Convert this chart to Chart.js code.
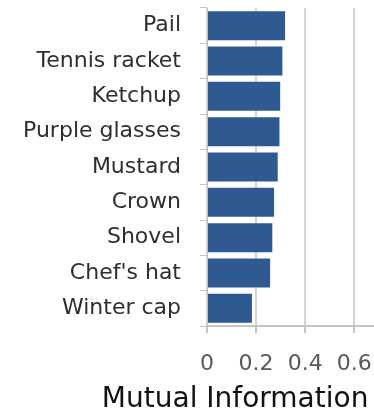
<!DOCTYPE html>
<html>
<head>
<meta charset="utf-8">
<script src="https://cdn.jsdelivr.net/npm/chart.js@4/dist/chart.umd.min.js"></script>
<style>
html,body{margin:0;padding:0;background:#fff;}
#wrap{width:374px;height:417px;}
</style>
</head>
<body>
<div id="wrap"><canvas id="c" width="374" height="417"></canvas></div>
<script>
const categories = ['Pail', 'Tennis racket', 'Ketchup', 'Purple glasses', 'Mustard', 'Crown', 'Shovel', "Chef's hat", 'Winter cap'];
const values = [0.318, 0.307, 0.298, 0.295, 0.288, 0.273, 0.266, 0.257, 0.183];
const xTicks = [0, 0.2, 0.4, 0.6];
const xTitle = 'Mutual Information';

new Chart(document.getElementById('c'), {
  type: 'bar',
  data: {
    labels: categories,
    datasets: [{
      data: values,
      backgroundColor: '#2f5a91',
      borderWidth: 0,
      barPercentage: 0.82,
      categoryPercentage: 1
    }]
  },
  options: {
    indexAxis: 'y',
    responsive: false,
    animation: false,
    layout: { padding: { top: 8, right: 0, left: 0, bottom: 0 } },
    plugins: {
      legend: { display: false },
      tooltip: { enabled: false },
      title: {
        display: true,
        position: 'bottom',
        align: 'end',
        text: xTitle + '\u2009',
        color: '#111111',
        font: { family: 'DejaVu Sans', size: 28, weight: 'normal' },
        padding: { top: 0, bottom: 0 }
      }
    },
    scales: {
      x: {
        min: 0,
        max: 0.68,
        afterBuildTicks: s => { s.ticks = xTicks.map(v => ({ value: v })); },
        afterFit: s => { s.height = 57.4; s.paddingLeft = 0; s.paddingRight = 0; },
        grid: { color: '#d4d4d4', lineWidth: 2, tickLength: 7, tickColor: '#c4c4c4', drawTicks: true },
        border: { display: true, color: '#c4c4c4', width: 2 },
        ticks: {
          padding: 18,
          color: '#595959',
          font: { family: 'DejaVu Sans', size: 22 },
          callback: v => String(v)
        }
      },
      y: {
        afterFit: s => { s.width = 207; s.paddingTop = 0; s.paddingBottom = 0; },
        grid: { drawOnChartArea: false, drawTicks: true, tickLength: 7, tickColor: '#c4c4c4', offset: true },
        border: { display: true, color: '#c4c4c4', width: 1 },
        ticks: {
          padding: 19,
          color: '#2e2e2e',
          font: { family: 'DejaVu Sans', size: 22 }
        }
      }
    }
  }
});
</script>
</body>
</html>
